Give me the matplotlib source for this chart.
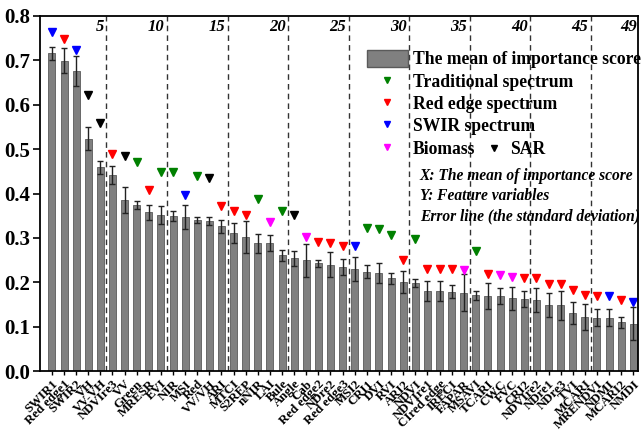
import matplotlib
matplotlib.use("Agg")
import matplotlib.pyplot as plt
from matplotlib.lines import Line2D
from matplotlib.patches import Patch
import numpy as np

features = ["SWIR1", "Red edge1", "SWIR2", "VH", "VV-VH", "NDVIre3", "VV", "Green",
            "MRESR", "EVI", "NIR", "MSI", "Red", "VV/VH", "ARI", "MTCI", "S2REP",
            "nNIR", "LAI", "Bule", "Angle", "Cab", "Red edge2", "NDre2", "Red edge3",
            "MSI2", "CRI1", "DVI", "RVI", "ARI2", "NDVI", "NDVIre1", "CIred edge",
            "IRECI", "FAPAR", "MSAVI", "TCARI", "CWC", "FVC", "CRI2", "NDVIre2",
            "NDre1", "NDre3", "TVI", "MCARI", "MRENDVI", "NDMI", "MCARI2", "NMDI"]

mean_score = [0.716, 0.699, 0.676, 0.523, 0.459, 0.442, 0.385, 0.374, 0.358, 0.351,
              0.349, 0.347, 0.340, 0.338, 0.326, 0.311, 0.302, 0.288, 0.288, 0.261,
              0.254, 0.250, 0.243, 0.240, 0.234, 0.231, 0.224, 0.221, 0.209, 0.201,
              0.199, 0.180, 0.180, 0.179, 0.177, 0.171, 0.169, 0.169, 0.164, 0.162,
              0.161, 0.149, 0.148, 0.131, 0.122, 0.120, 0.120, 0.110, 0.107]

std_score = [0.015, 0.028, 0.034, 0.026, 0.015, 0.020, 0.030, 0.008, 0.017, 0.020,
             0.012, 0.027, 0.006, 0.008, 0.015, 0.023, 0.035, 0.021, 0.018, 0.012,
             0.017, 0.037, 0.008, 0.029, 0.018, 0.027, 0.015, 0.023, 0.013, 0.024,
             0.009, 0.023, 0.023, 0.014, 0.041, 0.010, 0.030, 0.019, 0.026, 0.018,
             0.027, 0.028, 0.032, 0.024, 0.030, 0.019, 0.019, 0.012, 0.038]

# height of the triangle flag above each bar
flag_y = [0.764, 0.748, 0.724, 0.622, 0.558, 0.489, 0.485, 0.471, 0.408, 0.449,
          0.449, 0.396, 0.439, 0.434, 0.372, 0.361, 0.351, 0.387, 0.336, 0.360,
          0.352, 0.301, 0.291, 0.288, 0.282, 0.281, 0.322, 0.319, 0.306, 0.250,
          0.298, 0.230, 0.230, 0.230, 0.227, 0.270, 0.218, 0.216, 0.212, 0.210,
          0.210, 0.196, 0.196, 0.182, 0.171, 0.169, 0.169, 0.160, 0.156]

# T traditional, R red edge, S SWIR, B biomass, A SAR
group = ["S", "R", "S", "A", "A", "R", "A", "T", "R", "T", "T", "S", "T", "A", "R",
         "R", "R", "T", "B", "T", "A", "B", "R", "R", "R", "S", "T", "T", "T", "R",
         "T", "R", "R", "R", "B", "T", "R", "B", "B", "R", "R", "R", "R", "R", "R",
         "R", "S", "R", "S"]

group_color = {"T": "#008000", "R": "#ff0000", "S": "#0000ff", "B": "#ff00ff", "A": "#000000"}

plt.rcParams["font.family"] = ["Liberation Serif", "DejaVu Serif"]
plt.rcParams["font.weight"] = "bold"

fig = plt.figure(figsize=(6.42, 4.30), dpi=100)
ax = fig.add_axes([0.062, 0.137, 0.932, 0.826])

x = np.arange(1, len(features) + 1)
ax.bar(x, mean_score, width=0.58, color="#808080", edgecolor="#5a5a5a", linewidth=0.6,
       yerr=std_score, error_kw=dict(ecolor="#222222", elinewidth=1.0, capsize=2.5, capthick=1.0))

for xi, yi, g in zip(x, flag_y, group):
    ax.plot(xi, yi, marker="v", ms=6, color=group_color[g], linestyle="none")

# dashed separators every five features
for k in range(5, 50, 5):
    ax.axvline(k + 0.5, color="#333333", linestyle=(0, (4, 3)), linewidth=1.0, zorder=0)
    ax.text(k + 0.3, 0.774, str(k), ha="right", va="center", fontsize=12,
            style="italic", fontweight="bold")
ax.text(49.3, 0.774, "49", ha="right", va="center", fontsize=12, style="italic", fontweight="bold")

ax.set_xlim(0.0, 49.4)
ax.set_ylim(0, 0.8)
ax.set_yticks(np.arange(0, 0.81, 0.1))
ax.set_yticklabels([f"{v:.1f}" for v in np.arange(0, 0.81, 0.1)], fontsize=15, fontweight="bold")
ax.set_xticks(x)
ax.set_xticklabels(features, rotation=45, ha="right", rotation_mode="anchor",
                   fontsize=9.3, fontweight="bold")
ax.tick_params(axis="y", direction="out", length=5, width=1.2, pad=2)
ax.tick_params(axis="x", direction="out", length=3, width=1.0, pad=2)
for s in ax.spines.values():
    s.set_linewidth(1.3)

handles = [
    Patch(facecolor="#808080", edgecolor="#5a5a5a", label="The mean of importance score"),
    Line2D([], [], marker="v", ms=5, color="#008000", linestyle="none", label="Traditional spectrum"),
    Line2D([], [], marker="v", ms=5, color="#ff0000", linestyle="none", label="Red edge spectrum"),
    Line2D([], [], marker="v", ms=5, color="#0000ff", linestyle="none", label="SWIR spectrum"),
    Line2D([], [], marker="v", ms=5, color="#ff00ff", linestyle="none", label="Biomass"),
]
ax.legend(handles=handles, loc="upper left", bbox_to_anchor=(0.535, 0.924),
          frameon=False, fontsize=12.7, handlelength=2.3, handleheight=1.1,
          handletextpad=0.3, labelspacing=0.22, borderaxespad=0)

# SAR key sits on the Biomass row
ax.plot(0.759, 0.628, marker="v", ms=5, color="black", transform=ax.transAxes, clip_on=False)
ax.text(0.786, 0.625, "SAR", transform=ax.transAxes, fontsize=12.7, fontweight="bold",
        ha="left", va="center")

notes = ["X: The mean of importance score", "Y: Feature variables",
         "Error line (the standard deviation)"]
for i, t in enumerate(notes):
    ax.text(0.635, 0.55 - i * 0.057, t, transform=ax.transAxes, fontsize=11.2,
            style="italic", fontweight="bold", ha="left", va="center")

fig.savefig("out.png", dpi=100)
